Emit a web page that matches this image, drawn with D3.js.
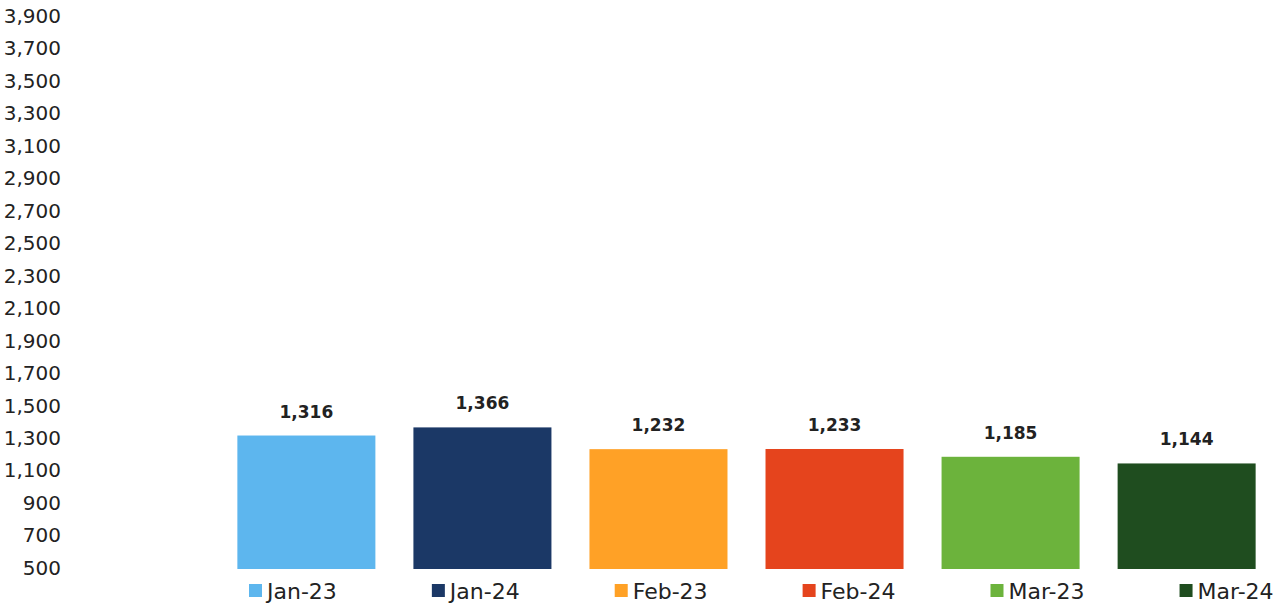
<!DOCTYPE html>
<html><head><meta charset="utf-8">
<script src="https://cdn.jsdelivr.net/npm/d3@7"></script>
<style>body{margin:0;background:#fff}svg{display:block}</style>
</head><body>
<svg id="c" width="1279" height="605"></svg>
<script>
const categories = ["Jan-23","Jan-24","Feb-23","Feb-24","Mar-23","Mar-24"];
const values = [1316,1366,1232,1233,1185,1144];
const colors = ["#5DB6EE","#1B3866","#FFA126","#E5441D","#6CB33C","#1F4D1F"];
const tickValues = [500,700,900,1100,1300,1500,1700,1900,2100,2300,2500,2700,2900,3100,3300,3500,3700,3900];

const svg = d3.select("#c");
const font = "DejaVu Sans, sans-serif";
const y = d3.scaleLinear().domain([500,3900]).range([568,16]);
const x = d3.scaleBand().domain(categories).range([218,1275]).paddingInner(0.216).paddingOuter(0.11);
const fmt = d3.format(",");

const ax = svg.append("g").attr("transform","translate(61,0)")
  .call(d3.axisLeft(y).tickValues(tickValues).tickFormat(fmt).tickSize(0).tickPadding(0));
ax.select(".domain").remove();
ax.selectAll("text").attr("font-family",font).attr("font-size",20).attr("fill","#222");

svg.selectAll("rect.bar").data(values).join("rect").attr("class","bar")
  .attr("x",(d,i)=>x(categories[i])).attr("width",x.bandwidth())
  .attr("y",d=>y(d)).attr("height",d=>y(500)-y(d)+1)
  .attr("fill",(d,i)=>colors[i]);

svg.selectAll("text.lbl").data(values).join("text").attr("class","lbl")
  .attr("x",(d,i)=>x(categories[i])+x.bandwidth()/2).attr("y",d=>y(d)-18)
  .attr("text-anchor","middle").attr("font-family",font).attr("font-weight","bold")
  .attr("font-size",17).attr("fill","#222").text(d=>fmt(d));

// legend: items laid out left to right with a constant gap
const lg = svg.selectAll("g.leg").data(categories).join("g").attr("class","leg");
lg.append("rect").attr("x",0).attr("y",584).attr("width",13).attr("height",13).attr("fill",(d,i)=>colors[i]);
lg.append("text").attr("x",18).attr("y",599).attr("font-family",font).attr("font-size",22).attr("fill","#222").text(d=>d);
let cx = 249;
lg.each(function(){
  d3.select(this).attr("transform",`translate(${cx},0)`);
  cx += 18 + d3.select(this).select("text").node().getComputedTextLength() + 95;
});
</script>
</body></html>
